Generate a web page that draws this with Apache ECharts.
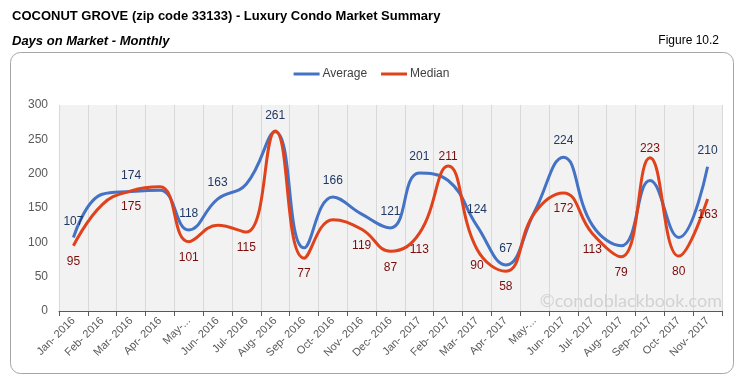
<!DOCTYPE html>
<html><head><meta charset="utf-8">
<script src="https://cdn.jsdelivr.net/npm/echarts@6/dist/echarts.min.js"></script>
<style>html,body{margin:0;padding:0;background:#fff;}#c{width:743px;height:382px;}</style>
</head><body><div id="c"></div>
<script>
var categories = ["Jan- 2016","Feb- 2016","Mar- 2016","Apr- 2016","May-...","Jun- 2016","Jul- 2016","Aug- 2016","Sep- 2016","Oct- 2016","Nov- 2016","Dec- 2016","Jan- 2017","Feb- 2017","Mar- 2017","Apr- 2017","May-...","Jun- 2017","Jul- 2017","Aug- 2017","Sep- 2017","Oct- 2017","Nov- 2017"];
var average = [107,170,174,176,118,163,185,261,92,166,141,121,201,190,124,67,145,224,125,95,190,107,210];
var median  = [95,155,175,181,101,125,115,262,77,133,119,87,113,211,90,58,143,172,113,79,223,80,163];
var yTicks = [0,50,100,150,200,250,300];
// which points carry a value label, and on which side
var avgLabels = {0:'top',2:'top',4:'top',5:'top',7:'top',9:'top',11:'top',12:'top',14:'top',15:'top',17:'top',22:'top'};
var medLabels = {0:'bottom',2:'bottom',4:'bottom',6:'bottom',8:'bottom',10:'bottom',11:'bottom',12:'bottom',13:'top',14:'bottom',15:'bottom',17:'bottom',18:'bottom',19:'bottom',20:'top',21:'bottom',22:'bottom'};

var FONT = "'Liberation Sans', Arial, sans-serif";
function mk(vals, labels, color, dist){
  return vals.map(function(v,i){
    var p = labels[i];
    return {value:v, label: p ? {show:true, position:p, distance:(p==='top'?dist:10), color:color, fontSize:12, fontFamily:FONT} : {show:false}};
  });
}
var chart = echarts.init(document.getElementById('c'), null, {renderer:'canvas'});
chart.setOption({
  animation:false,
  backgroundColor:'#fff',
  graphic:[
    {type:'rect', shape:{x:10.5,y:52.5,width:723,height:321,r:10}, style:{fill:'none',stroke:'#a6a6a6',lineWidth:1}, z:-10},
    {type:'text', left:12, top:10, style:{text:'COCONUT GROVE (zip code 33133) - Luxury Condo Market Summary', font:"bold 13px 'Liberation Sans', Arial", fill:'#000'}},
    {type:'text', left:12, top:35, style:{text:'Days on Market - Monthly', font:"italic bold 13px 'Liberation Sans', Arial", fill:'#000'}},
    {type:'text', right:24, top:35, style:{text:'Figure 10.2', font:"12px 'Liberation Sans', Arial", fill:'#000'}},
    {type:'text', right:21, top:292, z:10, style:{text:'©condoblackbook.com', font:"18px Lato, 'Open Sans', sans-serif", fill:'#d2d2d2'}}
  ],
  legend:{
    data:[{name:'Average',icon:'rect'},{name:'Median',icon:'rect'}],
    top:63, left:'center', itemWidth:26, itemHeight:3, itemGap:14,
    textStyle:{color:'#404040', fontSize:12, fontFamily:FONT, padding:[0,0,0,-2]}
  },
  grid:{left:59, right:21, top:105, bottom:71, show:true, backgroundColor:'#f2f2f2', borderWidth:0},
  xAxis:{
    type:'category', data:categories, boundaryGap:true,
    axisLine:{lineStyle:{color:'#595959',width:1}},
    axisTick:{show:true, alignWithLabel:false, length:5, lineStyle:{color:'#595959'}},
    splitLine:{show:true, lineStyle:{color:'#d9d9d9',width:1}},
    axisLabel:{rotate:45, interval:0, color:'#595959', fontSize:11, fontFamily:FONT, margin:8}
  },
  yAxis:{
    type:'value', min:yTicks[0], max:yTicks[yTicks.length-1], interval:50,
    axisLine:{show:false}, axisTick:{show:false}, splitLine:{show:false},
    axisLabel:{color:'#595959', fontSize:12, fontFamily:FONT, margin:11}
  },
  series:[
    {name:'Average', type:'line', data:mk(average, avgLabels, '#1f3864', 10), smooth:0.45, symbol:'circle', symbolSize:0, showSymbol:true,
      lineStyle:{color:'#4472c4', width:3}, itemStyle:{color:'#4472c4'}, z:3},
    {name:'Median', type:'line', data:mk(median, medLabels, '#7b0c0c', 3), smooth:0.45, symbol:'circle', symbolSize:0, showSymbol:true,
      lineStyle:{color:'#e0421b', width:3}, itemStyle:{color:'#e0421b'}, z:4}
  ]
});
</script></body></html>
